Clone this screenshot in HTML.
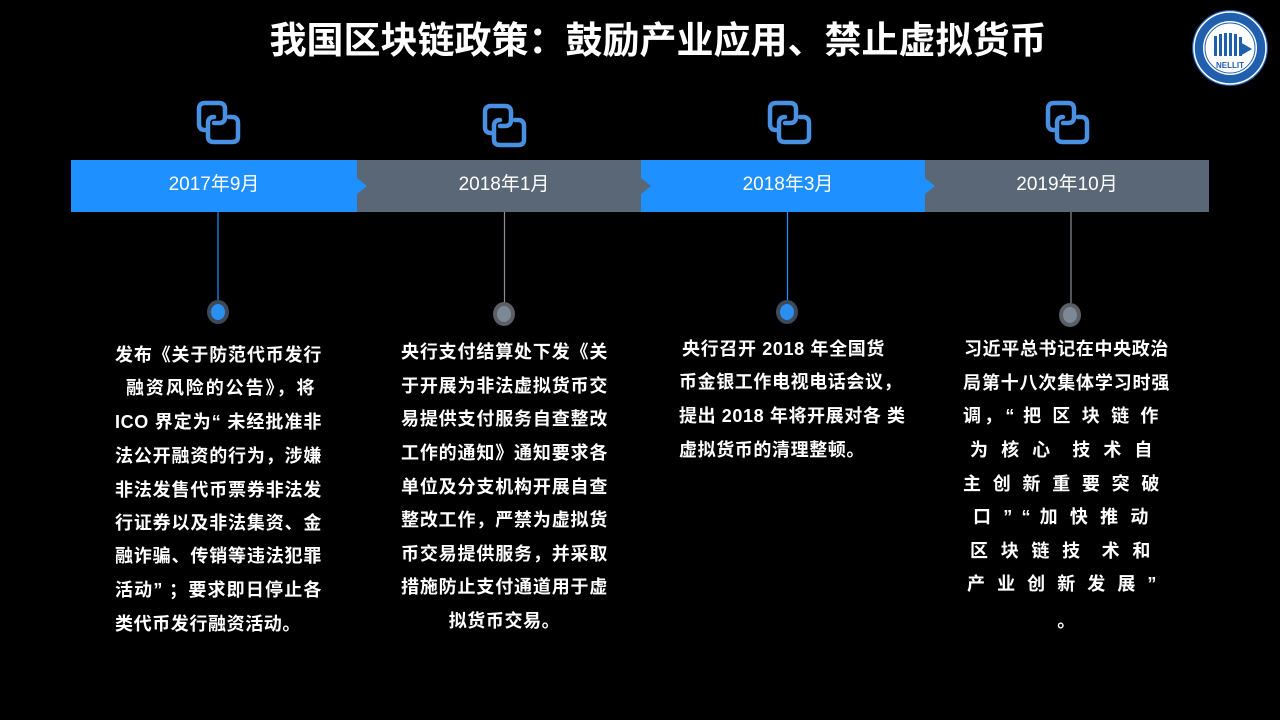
<!DOCTYPE html>
<html><head><meta charset="utf-8"><style>
body{margin:0;background:#000;}
#c{position:relative;width:1280px;height:720px;background:#000;overflow:hidden;font-family:"Liberation Sans","Noto Sans CJK SC",sans-serif;color:#fff;}
.t{position:absolute;left:0;width:1316px;top:17px;text-align:center;font-size:37px;font-weight:bold;line-height:48px;}
.l{position:absolute;font-size:18px;line-height:22px;height:22px;white-space:nowrap;letter-spacing:0.6px;font-weight:bold;}
.j{text-align:justify;text-align-last:justify;}
.ce{text-align:center;}
.d{position:absolute;top:160px;height:52px;line-height:50px;font-size:19px;text-align:center;}
</style></head><body><div id="c">
<div class="t">我国区块链政策：鼓励产业应用、禁止虚拟货币</div>
<svg width="1280" height="720" style="position:absolute;left:0;top:0">
<defs><g id="ic" fill="none" stroke="#4a90e2" stroke-width="4.5" stroke-linecap="round">
<path d="M8,28 Q2,28 2,22 V7 Q2,1 8,1 H22 Q28,1 28,7 V15 Q28,21 22,21 H17"/>
<path d="M17,15 Q11,15 11,21 V35 Q11,40 17,40 H35 Q41,40 41,35 V21 Q41,15 35,15 H32"/>
</g></defs>
<rect x="71" y="160" width="286" height="52" fill="#1e90ff"/>
<rect x="357" y="160" width="284" height="52" fill="#5a6776"/>
<rect x="641" y="160" width="284" height="52" fill="#1e90ff"/>
<rect x="925" y="160" width="284" height="52" fill="#5a6776"/>
<polygon points="357,178 367,186 357,194" fill="#1e90ff"/>
<polygon points="641,178 651,186 641,194" fill="#5a6776"/>
<polygon points="925,178 935,186 925,194" fill="#1e90ff"/>
<line x1="218" y1="212" x2="218" y2="300" stroke="#1e90ff" stroke-width="1.2"/>
<line x1="504.5" y1="212" x2="504.5" y2="303" stroke="#8a8f96" stroke-width="1.2"/>
<line x1="787.5" y1="212" x2="787.5" y2="301" stroke="#1e90ff" stroke-width="1.2"/>
<line x1="1071" y1="212" x2="1071" y2="303" stroke="#8a8f96" stroke-width="1.2"/>
<ellipse cx="218" cy="312" rx="11" ry="12" fill="#3c4a5a"/><ellipse cx="218" cy="312" rx="7" ry="8" fill="#2b8ff0"/>
<ellipse cx="504" cy="314" rx="11" ry="12" fill="#5c5f63"/><ellipse cx="504" cy="314" rx="7" ry="8" fill="#7c8896"/>
<ellipse cx="787" cy="312" rx="11" ry="12" fill="#3c4a5a"/><ellipse cx="787" cy="312" rx="7" ry="8" fill="#2b8ff0"/>
<ellipse cx="1070" cy="315" rx="11" ry="12" fill="#5c5f63"/><ellipse cx="1070" cy="315" rx="7" ry="8" fill="#7c8896"/>
<use href="#ic" x="197" y="102"/>
<use href="#ic" x="483" y="105"/>
<use href="#ic" x="768" y="102"/>
<use href="#ic" x="1046" y="102"/>
<circle cx="1230" cy="48" r="38" fill="#1f5fae"/>
<circle cx="1230" cy="48" r="36" fill="none" stroke="#fff" stroke-width="1.5"/>
<circle cx="1230" cy="48" r="27" fill="#fff"/>
<circle cx="1230" cy="48" r="25" fill="none" stroke="#1f5fae" stroke-width="1"/>
<g fill="#1f5fae"><rect x="1214" y="36" width="3" height="20"/><rect x="1219" y="34" width="3" height="22"/><rect x="1224" y="33" width="3" height="23"/><rect x="1229" y="33" width="3" height="23"/><rect x="1234" y="34" width="3" height="22"/><rect x="1239" y="37" width="3" height="19"/><path d="M1240,42 L1252,49 L1240,56 Z"/></g>
<text x="1230" y="68" font-size="8" font-weight="bold" fill="#1f5fae" text-anchor="middle" font-family="Liberation Sans">NELLIT</text>
</svg>
<div class="d" style="left:71px;width:286px">2017年9月</div>
<div class="d" style="left:357px;width:294px">2018年1月</div>
<div class="d" style="left:641px;width:294px">2018年3月</div>
<div class="d" style="left:925px;width:284px">2019年10月</div>

<div class="l j" style="left:115px;width:207px;top:344px">发布《关于防范代币发行</div>
<div class="l j" style="left:126px;width:189px;top:377px">融资风险的公告》，将</div>
<div class="l j" style="left:115px;width:207px;top:411px">ICO 界定为“ 未经批准非</div>
<div class="l j" style="left:115px;width:207px;top:445px">法公开融资的行为，涉嫌</div>
<div class="l j" style="left:115px;width:207px;top:479px">非法发售代币票券非法发</div>
<div class="l j" style="left:115px;width:207px;top:512px">行证券以及非法集资、金</div>
<div class="l j" style="left:115px;width:207px;top:545px">融诈骗、传销等违法犯罪</div>
<div class="l j" style="left:115px;width:207px;top:579px">活动” ；要求即日停止各</div>
<div class="l" style="left:115px;top:613px">类代币发行融资活动。</div>

<div class="l j" style="left:401px;width:207px;top:341px">央行支付结算处下发《关</div>
<div class="l j" style="left:401px;width:207px;top:375px">于开展为非法虚拟货币交</div>
<div class="l j" style="left:401px;width:207px;top:408px">易提供支付服务自查整改</div>
<div class="l j" style="left:401px;width:207px;top:442px">工作的通知》通知要求各</div>
<div class="l j" style="left:401px;width:207px;top:476px">单位及分支机构开展自查</div>
<div class="l j" style="left:401px;width:207px;top:509px">整改工作，严禁为虚拟货</div>
<div class="l j" style="left:401px;width:207px;top:543px">币交易提供服务，并采取</div>
<div class="l j" style="left:401px;width:207px;top:576px">措施防止支付通道用于虚</div>
<div class="l ce" style="left:401px;width:207px;top:610px">拟货币交易。</div>

<div class="l j" style="left:682px;width:203px;top:338px">央行召开 2018 年全国货</div>
<div class="l j" style="left:679px;width:214px;top:371px">币金银工作电视电话会议，</div>
<div class="l j" style="left:679px;width:223px;top:405px">提出 2018 年将开展对各 类</div>
<div class="l" style="left:679px;top:439px">虚拟货币的清理整顿。</div>

<div class="l j" style="left:964px;width:205px;top:338px">习近平总书记在中央政治</div>
<div class="l j" style="left:963px;width:207px;top:372px">局第十八次集体学习时强</div>
<div class="l j" style="left:963px;width:196px;top:405px">调，“ 把 区 块 链 作</div>
<div class="l j" style="left:970px;width:183px;top:439px">为 核 心 &nbsp;技 术 自</div>
<div class="l j" style="left:963px;width:197px;top:473px">主 创 新 重 要 突 破</div>
<div class="l j" style="left:973px;width:176px;top:506px">口 ” “ 加 快 推 动</div>
<div class="l j" style="left:970px;width:181px;top:540px">区 块 链 技 &nbsp;术 和</div>
<div class="l j" style="left:967px;width:190px;top:573px">产 业 创 新 发 展 ”</div>
<div class="l ce" style="left:963px;width:207px;top:610px">。</div>
</div></body></html>
